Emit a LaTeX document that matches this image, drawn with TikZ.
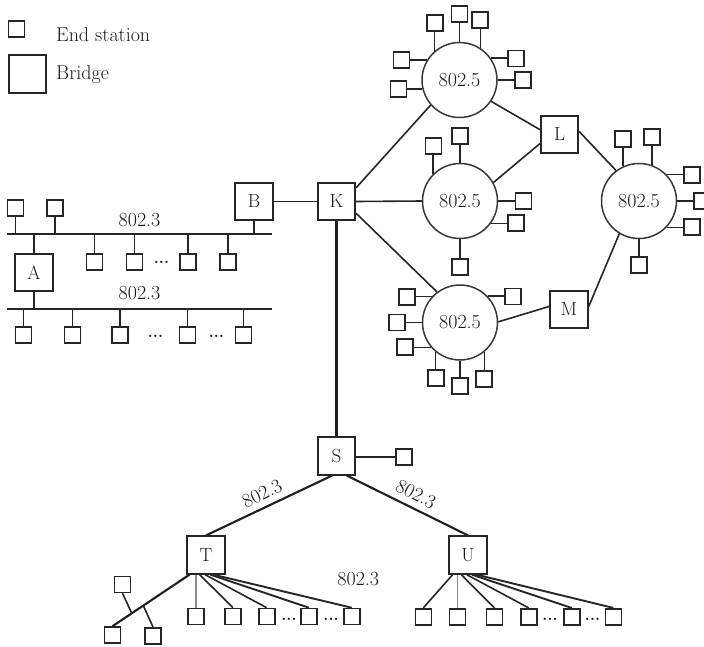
\documentclass[tikz,border=0pt]{standalone}
\usetikzlibrary{calc}
\begin{document}
\begin{tikzpicture}[x=1pt,y=-1pt,
  wire/.style={draw=black!85, line width=1.6pt},
  heavywire/.style={draw=black!88, line width=2.1pt},
  greywire/.style={draw=black!45, line width=1.6pt},
  station/.style={draw=black!85, line width=1.6pt, fill=white, minimum size=16pt, inner sep=0pt},
  bridge/.style={draw=black!85, line width=1.7pt, fill=white, minimum size=37.5pt, inner sep=0pt,
    text=black!90, font=\fontsize{19}{19}\selectfont},
  ring/.style={circle, draw=black!78, line width=1.5pt, fill=white, minimum size=75pt, inner sep=0pt,
    text=black!90, font=\fontsize{20}{20}\selectfont},
  lbl/.style={text=black!90, inner sep=0pt, font=\fontsize{20}{20}\selectfont},
  dots/.style={text=black!90, inner sep=0pt, font=\fontsize{16}{16}\selectfont\bfseries}
]
\useasboundingbox (0,0) rectangle (704,646);

% ---------- legend ----------
\node[station] (legS) at (16.5,29) {};
\node[lbl, anchor=base west] (legSt) at (56,41.5) {End station};
\node[bridge] (legB) at (27.5,74) {};
\node[lbl, anchor=base west] (legBt) at (56,79.5) {Bridge};

% ---------- two 802.3 buses joined by A ----------
\coordinate (bus1w) at (7,234);
\coordinate (bus1e) at (272,234);
\coordinate (bus2w) at (7,309);
\coordinate (bus2e) at (272,309);
\draw[wire] (bus1w) -- (bus1e);
\draw[wire] (bus2w) -- (bus2e);
\node[lbl] (bus1lbl) at (139.5,220) {802.3};
\node[lbl] (bus2lbl) at (139.5,293.5) {802.3};

\node[station] (st1) at (15.5,208) {};
\node[station] (st2) at (55,208) {};
\node[bridge] (A) at (34,272.5) {A};
\node[bridge] (B) at (254,201.5) {B};
\node[station] (b1) at (94.3,262) {};
\node[station] (b2) at (134.3,262) {};
\node[station] (b3) at (187.7,262) {};
\node[station] (b4) at (227.7,262) {};
\node[dots] (bdots) at (161.5,262) {...};

\node[station] (c1) at (23.3,335) {};
\node[station] (c2) at (72.3,335) {};
\node[station] (c3) at (120,335) {};
\node[station] (c4) at (187.3,335) {};
\node[station] (c5) at (243.3,335) {};
\node[dots] (cdots1) at (155.5,336) {...};
\node[dots] (cdots2) at (216.3,336) {...};

\foreach \n in {st1,st2} \draw[wire] (\n.south) -- (\n.south |- bus1w);
\foreach \n in {b1,b2,b3,b4} \draw[wire] (\n.north) -- (\n.north |- bus1w);
\foreach \n in {c1,c2,c3,c4,c5} \draw[wire] (\n.north) -- (\n.north |- bus2w);
\draw[wire] (A.north) -- (A.north |- bus1w);
\draw[wire] (A.south) -- (A.south |- bus2w);
\draw[wire] (B.south) -- (B.south |- bus1w);

% ---------- bridges and token rings ----------
\node[bridge] (K) at (336.5,201.5) {K};
\node[bridge] (L) at (559.5,134.5) {L};
\node[bridge] (M) at (569,309.5) {M};
\node[ring] (R1) at (459.5,80) {802.5};
\node[ring] (R2) at (460,201) {802.5};
\node[ring] (R3) at (639,201) {802.5};
\node[ring] (R4) at (460,322.5) {802.5};

\draw[wire] (B.east) -- (K.west);
\draw[wire] (K.35) -- (R1.221);
\draw[wire] (K.east) -- (R2.west);
\draw[wire] (K.-31) -- (R4.127);
\draw[wire] (R1.326) -- (L.166);
\draw[wire] (R2.29) -- (L.205);
\draw[wire] (L.9) -- (R3.127);
\draw[wire] (R4.1) -- (M.171);
\draw[wire] (M.8) -- (R3.239);

% stations on ring R1
\node[station] (r1a) at (435,23) {};
\node[station] (r1b) at (459.5,14) {};
\node[station] (r1c) at (480,20) {};
\node[station] (r1d) at (516,58.5) {};
\node[station] (r1e) at (523,80) {};
\node[station] (r1f) at (401.3,60) {};
\node[station] (r1g) at (398.3,89.2) {};
\draw[wire] (R1.131) -- (R1.131 |- r1a.south);
\draw[wire] (R1.north) -- (r1b.south);
\draw[wire] (R1.57) -- (R1.57 |- r1c.south);
\draw[wire] (R1.35) -- (R1.35 -| r1d.west);
\draw[wire] (R1.east) -- (r1e.west);
\draw[wire] (R1.148) -- (R1.148 -| r1f.east);
\draw[wire] (R1.194) -- (R1.194 -| r1g.east);

% stations on ring R2
\node[station] (r2a) at (433.5,145.7) {};
\node[station] (r2b) at (460,135.7) {};
\node[station] (r2c) at (523.3,201) {};
\node[station] (r2d) at (515.7,223) {};
\node[station] (r2e) at (460,266.7) {};
\draw[wire] (R2.135) -- (R2.135 |- r2a.south);
\draw[wire] (R2.north) -- (r2b.south);
\draw[wire] (R2.east) -- (r2c.west);
\draw[wire] (R2.324) -- (R2.324 -| r2d.west);
\draw[wire] (R2.south) -- (r2e.north);

% stations on ring R3
\node[station] (r3a) at (623.2,138.7) {};
\node[station] (r3b) at (651.8,137) {};
\node[station] (r3c) at (692,175) {};
\node[station] (r3d) at (702,201) {};
\node[station] (r3e) at (691.7,227) {};
\node[station] (r3f) at (639,264.7) {};
\draw[wire] (R3.115) -- (R3.115 |- r3a.south);
\draw[wire] (R3.70) -- (R3.70 |- r3b.south);
\draw[wire] (R3.44) -- (R3.44 -| r3c.west);
\draw[wire] (R3.east) -- (r3d.west);
\draw[wire] (R3.316) -- (R3.316 -| r3e.west);
\draw[wire] (R3.south) -- (r3f.north);

% stations on ring R4
\node[station] (r4a) at (513,296.5) {};
\node[station] (r4b) at (406.7,296.9) {};
\node[station] (r4c) at (397.2,322.5) {};
\node[station] (r4d) at (404.7,347.1) {};
\node[station] (r4e) at (435.9,378) {};
\node[station] (r4f) at (460,386.2) {};
\node[station] (r4g) at (484.1,379) {};
\draw[wire] (R4.44) -- (R4.44 -| r4a.west);
\draw[wire] (R4.137) -- (R4.137 -| r4b.east);
\draw[wire] (R4.west) -- (r4c.east);
\draw[wire] (R4.221) -- (R4.221 -| r4d.east);
\draw[wire] (R4.230) -- (R4.230 |- r4e.north);
\draw[wire] (R4.south) -- (r4f.north);
\draw[wire] (R4.310) -- (R4.310 |- r4g.north);

% ---------- tree below K ----------
\node[bridge] (S) at (336.5,456) {S};
\node[bridge] (T) at (206,555) {T};
\node[bridge] (U) at (468,555) {U};
\node[station] (ss) at (404,457) {};
\draw[heavywire] (K.south) -- (S.north);
\draw[wire] (ss.west) -- (ss.west -| S.east);
\draw[heavywire] (S.257) -- (T.north);
\draw[heavywire] (S.298) -- (U.north);
\node[lbl, rotate=26] (lST) at (262,494) {802.3};
\node[lbl, rotate=-27] (lSU) at (416,494) {802.3};
\node[lbl] (lT) at (358.3,579) {802.3};

% stations under T
\node[station] (t1) at (195.7,616.5) {};
\node[station] (t2) at (233,616.5) {};
\node[station] (t3) at (266.7,616.5) {};
\node[station] (t4) at (309,616.5) {};
\node[station] (t5) at (351.7,616.5) {};
\node[dots] (tdots1) at (289,619) {...};
\node[dots] (tdots2) at (331,619) {...};
\draw[greywire] (t1.north) -- (t1.north |- T.south);
\draw[wire] (T.252) -- (t2.north);
\draw[wire] (T.267) -- (t3.north);
\draw[wire, line width=1.9pt] (T.282) -- (t4.north);
\draw[wire, line width=1.9pt] (T.290) -- (t5.north);

\node[station] (tl1) at (112.5,635) {};
\node[station] (tl2) at (122.5,584.5) {};
\node[station] (tl3) at (153,635.8) {};
\draw[heavywire] (T.230) -- (tl1.north);
\coordinate (j1) at ($(T.230)!0.75!(tl1.north)$);
\coordinate (j2) at ($(T.230)!0.60!(tl1.north)$);
\draw[wire] (tl2.south) -- (j1);
\draw[wire] (j2) -- (tl3.north);

% stations under U
\node[station] (u1) at (423.3,616.7) {};
\node[station] (u2) at (457.3,616.7) {};
\node[station] (u3) at (494.3,616.7) {};
\node[station] (u4) at (528.7,616.7) {};
\node[station] (u5) at (571.7,616.7) {};
\node[station] (u6) at (613.3,616.7) {};
\node[dots] (udots1) at (550,619.5) {...};
\node[dots] (udots2) at (592.5,619.5) {...};
\draw[wire] (U.232) -- (u1.north);
\draw[greywire] (u2.north) -- (u2.north |- U.south);
\draw[wire] (U.251) -- (u3.north);
\draw[wire] (U.266) -- (u4.north);
\draw[wire, line width=1.9pt] (U.281) -- (u5.north);
\draw[wire, line width=1.9pt] (U.293) -- (u6.north);
\end{tikzpicture}
\end{document}
